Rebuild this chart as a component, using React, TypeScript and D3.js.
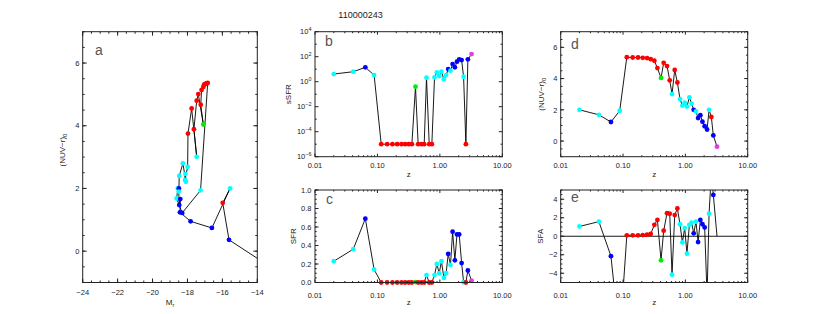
import React from 'react';
import * as d3 from 'd3';

// galaxy track, one entry per snapshot, ordered by redshift
const galaxyId = '110000243';
const redshift = [0.020, 0.041, 0.064, 0.0885, 0.115, 0.143, 0.174, 0.207, 0.243, 0.278, 0.318, 0.356, 0.407, 0.449, 0.508, 0.561, 0.611, 0.675, 0.744, 0.821, 0.895, 0.976, 1.06, 1.16, 1.26, 1.36, 1.48, 1.60, 1.74, 1.88, 2.04, 2.23, 2.40, 2.61, 2.81, 3.22];
const pointClass = ['c', 'c', 'b', 'c', 'r', 'r', 'r', 'r', 'r', 'r', 'r', 'r', 'g', 'r', 'r', 'r', 'c', 'r', 'r', 'c', 'c', 'c', 'c', 'c', 'c', 'b', 'c', 'b', 'b', 'b', 'b', 'b', 'c', 'r', 'b', 'm'];
const absMagR = [-18.55, -18.62, -18.3, -17.25, -16.84, -16.88, -16.92, -16.99, -17.05, -17.09, -17.19, -17.24, -17.09, -17.38, -17.47, -17.63, -17.47, -17.76, -17.97, -17.99, -18.14, -18.12, -18.09, -18.26, -18.47, -18.49, -18.5, -18.47, -18.41, -18.43, -17.82, -16.6, -15.56, -15.98, -15.62, -13.64];
const nuvR = [2.0, 1.68, 1.22, 1.94, 5.37, 5.35, 5.35, 5.33, 5.31, 5.24, 5.14, 4.67, 4.04, 5.01, 4.8, 3.89, 3.01, 4.55, 3.75, 2.69, 2.27, 2.46, 2.21, 2.8, 2.4, 2.0, 1.9, 1.47, 1.66, 1.24, 0.95, 0.74, 2.0, 1.54, 0.36, -0.36];
const sSFR = [4.1, 6.3, 14, 3.4, 1e-5, 1e-5, 1e-5, 1e-5, 1e-5, 1e-5, 1e-5, 1e-5, 0.4, 1e-5, 1e-5, 1e-5, 2.1, 1e-5, 1e-5, 2.2, 5.6, 2.8, 6.3, 1.6, 3.4, 10.2, 7.6, 25.7, 14.1, 40, 62, 54, 2.5, 1e-5, 62, 162];
const sfr = [0.23, 0.36, 0.69, 0.14, 0, 0, 0, 0, 0, 0, 0, 0, 0.005, 0, 0, 0, 0.08, 0, 0, 0.08, 0.20, 0.10, 0.23, 0.05, 0.10, 0.31, 0.19, 0.55, 0.24, 0.52, 0.52, 0.21, 0.004, 0, 0.13, 0.02];
const sfa = [1.06, 1.58, -2.15, -11.2, 0.1, 0.1, 0.1, 0.13, 0.17, 0.25, 1.23, 1.76, -2.6, 0.6, 2.5, 2.43, -4.15, 2.29, 3.0, 1.3, -0.67, 0.88, -1.87, 1.23, 1.48, 0.32, 1.58, -0.63, 1.76, 1.3, 0.95, -6.5, 2.43, 6.8, 4.47, 0];
const sfaNoDot = [35];

const zMajor = [0.01, 0.1, 1, 10];
const zMinor = [0.01, 0.1, 1].flatMap(d => [2, 3, 4, 5, 6, 7, 8, 9].map(k => d * k));
const ssfrMajor = [1e-6, 1e-4, 1e-2, 1, 1e2, 1e4];
const ssfrMinor = [1e-5, 1e-3, 1e-1, 10, 1e3];

const colours: Record<string, string> = { c: '#00ffff', b: '#0000ff', r: '#ff0000', g: '#00ee00', m: '#e23ce2' };
const FONT = 'Liberation Sans, Arial, Helvetica, sans-serif';
const minus = (s: string) => s.replace('-', '\u2212');
const range = (a: number, b: number, s: number) => d3.range(a, b + s / 2, s).map(v => +v.toFixed(4));

type AxisCfg = {
  major: number[];
  minor: number[];
  fmt: (v: number) => React.ReactNode;
  labelPos: number;
  tick: number;
};

function Panel(props: {
  name: string;
  x: any; y: any;
  xs: number[]; ys: number[];
  xAxis: AxisCfg; yAxis: AxisCfg;
  letter: string; letterX: number; letterY: number;
  xTitle: React.ReactNode; xTitleY: number;
  yTitle: React.ReactNode; yTitleX: number; yTitleY?: number;
  zeroLine?: boolean; noDot?: number[];
}) {
  const { name, x, y, xs, ys, xAxis, yAxis } = props;
  const [x0, x1] = x.range();
  const [yb, yt] = y.range();
  const clip = `clip-${name}`;
  const line = d3.line<number>().x((_, i) => x(xs[i])).y((_, i) => y(ys[i]));
  const xd = x.domain(), yd = y.domain();
  const inside = (i: number) => xs[i] >= xd[0] && xs[i] <= xd[1] && ys[i] >= Math.min(...yd) && ys[i] <= Math.max(...yd);
  const tl = xAxis.tick, yl = yAxis.tick;
  return (
    <g>
      <defs>
        <clipPath id={clip}><rect x={x0} y={yt} width={x1 - x0} height={yb - yt} /></clipPath>
      </defs>
      {props.zeroLine && <line x1={x0} x2={x1} y1={y(0)} y2={y(0)} stroke="#000" strokeWidth={0.9} />}
      <path d={line(xs) || ''} fill="none" stroke="#000" strokeWidth={0.9} clipPath={`url(#${clip})`} />
      {xs.map((_, i) => (inside(i) && !(props.noDot || []).includes(i)) ? (
        <circle key={i} cx={x(xs[i])} cy={y(ys[i])} r={2.4} fill={colours[pointClass[i]]} />
      ) : null)}
      <rect x={x0} y={yt} width={x1 - x0} height={yb - yt} fill="none" stroke="#222" strokeWidth={1} />
      {xAxis.major.map(v => (
        <g key={'xM' + v}>
          <line x1={x(v)} x2={x(v)} y1={yb} y2={yb - tl} stroke="#222" />
          <line x1={x(v)} x2={x(v)} y1={yt} y2={yt + tl} stroke="#222" />
          <text x={x(v)} y={xAxis.labelPos} textAnchor="middle" fontSize={7.5} fill="#222">{xAxis.fmt(v)}</text>
        </g>
      ))}
      {xAxis.minor.map(v => (
        <g key={'xm' + v}>
          <line x1={x(v)} x2={x(v)} y1={yb} y2={yb - tl / 2} stroke="#222" />
          <line x1={x(v)} x2={x(v)} y1={yt} y2={yt + tl / 2} stroke="#222" />
        </g>
      ))}
      {yAxis.major.map(v => (
        <g key={'yM' + v}>
          <line x1={x0} x2={x0 + yl} y1={y(v)} y2={y(v)} stroke="#222" />
          <line x1={x1} x2={x1 - yl} y1={y(v)} y2={y(v)} stroke="#222" />
          <text x={yAxis.labelPos} y={y(v) + 2.7} textAnchor="end" fontSize={7.5} fill="#222">{yAxis.fmt(v)}</text>
        </g>
      ))}
      {yAxis.minor.map(v => (
        <g key={'ym' + v}>
          <line x1={x0} x2={x0 + yl / 2} y1={y(v)} y2={y(v)} stroke="#222" />
          <line x1={x1} x2={x1 - yl / 2} y1={y(v)} y2={y(v)} stroke="#222" />
        </g>
      ))}
      <text x={props.letterX} y={props.letterY} fontSize={14} fill="#555">{props.letter}</text>
      <text x={(x0 + x1) / 2} y={props.xTitleY} textAnchor="middle" fontSize={8} fill="#222">{props.xTitle}</text>
      <text transform={`translate(${props.yTitleX},${props.yTitleY ?? (yb + yt) / 2}) rotate(-90)`} textAnchor="middle" fontSize={8} fill="#222">{props.yTitle}</text>
    </g>
  );
}

const zFmt = (v: number) => v.toFixed(2);
const numFmt = (d: number) => (v: number) => minus(v.toFixed(d));
const expFmt = (v: number) => {
  const e = Math.round(Math.log10(v));
  return (<>10<tspan dy={-3} fontSize={5.5}>{minus(String(e))}</tspan></>);
};
const nuvTitle = (<>(NUV{'\u2212'}r)<tspan dy={2} fontSize={6}>0</tspan></>);

export default function App() {
  const W = 830, H = 314;
  // panel frames
  const xa = d3.scaleLinear().domain([-24, -14]).range([82.7, 257.3]);
  const ya = d3.scaleLinear().domain([-1, 7]).range([282.5, 31.7]);
  const xb = d3.scaleLog().domain([0.01, 10]).range([315, 502.3]);
  const yb = d3.scaleLog().domain([1e-6, 1e4]).range([156.7, 31.7]);
  const yc = d3.scaleLinear().domain([0, 1]).range([282.5, 190]);
  const xd = d3.scaleLog().domain([0.01, 10]).range([560.7, 747.7]);
  const yd = d3.scaleLinear().domain([-1, 7]).range([156.7, 31.7]);
  const ye = d3.scaleLinear().domain([-5, 5]).range([282.5, 190]);

  return (
    <svg width={W} height={H} style={{ position: 'absolute', left: 0, top: 0, background: '#fff' }} fontFamily={FONT}>
      <rect width={W} height={H} fill="#fff" />
      <text x={360.5} y={18} textAnchor="middle" fontSize={9} fill="#222">{galaxyId}</text>
      <Panel name="a" x={xa} y={ya} xs={absMagR} ys={nuvR}
        xAxis={{ major: range(-24, -14, 2), minor: range(-24, -14, 0.5), fmt: numFmt(0), labelPos: 294.5, tick: 4 }}
        yAxis={{ major: range(0, 6, 2), minor: range(-1, 7, 0.5), fmt: numFmt(0), labelPos: 79.5, tick: 4 }}
        letter="a" letterX={95} letterY={54.5}
        xTitle={<>M<tspan dy={2} fontSize={5.5}>r</tspan></>} xTitleY={305}
        yTitle={nuvTitle} yTitleX={65} yTitleY={150} />
      <Panel name="b" x={xb} y={yb} xs={redshift} ys={sSFR}
        xAxis={{ major: zMajor, minor: zMinor, fmt: zFmt, labelPos: 168, tick: 3 }}
        yAxis={{ major: ssfrMajor, minor: ssfrMinor, fmt: expFmt, labelPos: 311.5, tick: 3.5 }}
        letter="b" letterX={325} letterY={46}
        xTitle="z" xTitleY={177} yTitle="sSFR" yTitleX={291} />
      <Panel name="c" x={xb} y={yc} xs={redshift} ys={sfr}
        xAxis={{ major: zMajor, minor: zMinor, fmt: zFmt, labelPos: 297.5, tick: 3 }}
        yAxis={{ major: range(0, 1, 0.2), minor: range(0, 1, 0.05), fmt: numFmt(1), labelPos: 311.5, tick: 3.5 }}
        letter="c" letterX={326} letterY={204}
        xTitle="z" xTitleY={305} yTitle="SFR" yTitleX={296} />
      <Panel name="d" x={xd} y={yd} xs={redshift} ys={nuvR}
        xAxis={{ major: zMajor, minor: zMinor, fmt: zFmt, labelPos: 168, tick: 3 }}
        yAxis={{ major: range(0, 6, 2), minor: range(-1, 7, 0.5), fmt: numFmt(0), labelPos: 557.5, tick: 3.5 }}
        letter="d" letterX={571} letterY={49}
        xTitle="z" xTitleY={177} yTitle={nuvTitle} yTitleX={544} />
      <Panel name="e" x={xd} y={ye} xs={redshift} ys={sfa}
        xAxis={{ major: zMajor, minor: zMinor, fmt: zFmt, labelPos: 297.5, tick: 3 }}
        yAxis={{ major: range(-4, 4, 2), minor: range(-5, 5, 0.5), fmt: numFmt(0), labelPos: 557.5, tick: 3.5 }}
        letter="e" letterX={571} letterY={202} zeroLine noDot={sfaNoDot}
        xTitle="z" xTitleY={305} yTitle="SFA" yTitleX={543} />
    </svg>
  );
}
